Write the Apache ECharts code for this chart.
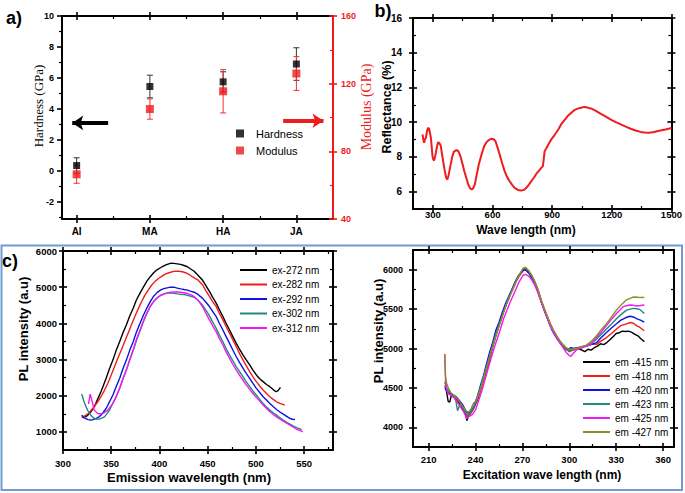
<!DOCTYPE html>
<html><head><meta charset="utf-8">
<script src="https://cdn.jsdelivr.net/npm/echarts@6/dist/echarts.min.js"></script>
<style>html,body{margin:0;padding:0;background:#fff}#c{width:685px;height:493px}</style>
</head><body><div id="c"></div>
<script>
// ---------------- data ----------------
const mechCategories = ['AI', 'MA', 'HA', 'JA'];
const hardness = [0.35, 5.45, 5.75, 6.9];
const hardnessErr = [0.5, 0.73, 0.65, 1.05];
const modulus = [66.4, 105, 115.5, 126];
const modulusErr = [5.3, 6, 12.8, 10];
const hardnessTicks = [-2, 0, 2, 4, 6, 8, 10];
const modulusTicks = [40, 80, 120, 160];

const reflectance = [[248,9.29],[252,9.0],[256,8.81],[260,9.0],[265,9.10],[270,9.45],[275,9.67],[281,9.63],[286,9.35],[290,9.10],[294,8.6],[298,8.04],[302,7.85],[306,7.79],[310,7.95],[315,8.23],[319,8.5],[323,8.71],[327,8.85],[331,8.81],[335,8.75],[340,8.62],[346,8.15],[353,7.66],[359,7.25],[365,6.89],[369,6.75],[373,6.70],[378,6.9],[383,7.18],[390,7.6],[398,8.04],[406,8.3],[415,8.37],[422,8.38],[428,8.33],[435,8.15],[441,7.94],[450,7.55],[458,7.18],[468,6.8],[478,6.41],[487,6.2],[495,6.12],[503,6.2],[511,6.41],[520,6.95],[531,7.56],[545,8.15],[558,8.62],[568,8.82],[578,8.94],[588,9.02],[598,9.04],[607,9.0],[615,8.90],[625,8.55],[636,8.14],[648,7.65],[661,7.18],[673,6.85],[686,6.60],[698,6.4],[711,6.22],[728,6.1],[745,6.06],[758,6.1],[770,6.22],[783,6.4],[795,6.60],[808,6.8],[820,7.02],[833,7.2],[845,7.37],[853,7.46],[858,7.9],[862,8.33],[870,8.48],[881,8.71],[895,9.00],[908,9.2],[920,9.39],[933,9.62],[945,9.87],[962,10.12],[978,10.35],[995,10.53],[1011,10.69],[1028,10.78],[1045,10.83],[1061,10.88],[1078,10.84],[1095,10.79],[1120,10.65],[1145,10.48],[1170,10.32],[1195,10.15],[1220,10.0],[1245,9.87],[1270,9.74],[1295,9.62],[1320,9.52],[1345,9.44],[1365,9.41],[1386,9.39],[1405,9.42],[1428,9.48],[1450,9.53],[1470,9.58],[1490,9.64],[1500,9.67]];
const reflXTicks = [300, 600, 900, 1200, 1500];
const reflYTicks = [6, 8, 10, 12, 14, 16];

const exNames = ['ex-272 nm', 'ex-282 nm', 'ex-292 nm', 'ex-302 nm', 'ex-312 nm'];
const ex272 = [[320,1435],[323.6,1417],[326,1470],[328.9,1556],[331.5,1650],[334,1787],[336.5,1940],[339.4,2111],[342,2290],[344.7,2482],[348,2730],[351.8,2991],[355,3240],[358.8,3500],[362,3730],[365.8,3963],[369,4190],[372.9,4426],[376,4640],[380,4843],[383.5,5010],[387,5167],[390.5,5290],[394,5399],[397.5,5480],[401,5537],[404.5,5590],[408,5630],[411.5,5660],[415,5658],[418.5,5645],[422,5630],[425.5,5600],[429,5565],[432,5510],[436,5440],[440,5330],[444.8,5190],[448,5050],[451.7,4889],[455,4730],[458.7,4565],[462,4390],[465.7,4195],[469,4010],[472.6,3824],[476,3640],[479.6,3454],[483,3290],[486.6,3130],[490,2990],[493.6,2852],[497,2710],[500.5,2574],[504,2470],[507.5,2389],[511,2310],[514.5,2250],[518,2170],[521,2110],[523,2140],[525.5,2230]];
const ex282 = [[319.4,1398],[322,1430],[325.4,1491],[329,1590],[332.4,1695],[336,1830],[339.4,1972],[343,2150],[346.5,2343],[350,2570],[353.5,2806],[357,3040],[360.6,3269],[364,3500],[367.6,3732],[371,3960],[374.6,4195],[378,4400],[381.7,4611],[385,4780],[388.7,4935],[392,5060],[395.8,5167],[399,5240],[402.8,5306],[406,5360],[409.9,5398],[413,5425],[416.9,5445],[420,5440],[423.9,5426],[427,5400],[431,5350],[434,5290],[437.8,5230],[440,5200],[444.8,5060],[448,4910],[451.7,4750],[455,4610],[458.7,4472],[462,4290],[465.7,4102],[469,3920],[472.6,3732],[476,3550],[479.6,3361],[483,3170],[486.6,2991],[490,2830],[493.6,2667],[497,2520],[500.5,2389],[504,2270],[507.5,2157],[511,2060],[514.5,1972],[518,1900],[521.4,1833],[525,1790],[530.1,1741]];
const ex292 = [[319.4,1463],[321,1400],[323.6,1370],[326,1340],[328.9,1324],[331,1340],[334.2,1370],[337,1410],[339.4,1463],[342,1550],[344.7,1648],[348,1820],[351.8,2019],[355,2240],[358.8,2482],[362,2730],[365.8,2991],[369,3240],[372.9,3500],[376,3750],[380,4010],[383.5,4230],[387,4426],[390.5,4600],[394,4750],[397.5,4850],[401,4917],[404.5,4960],[408,4982],[411.5,5000],[415,5000],[418.5,4975],[422,4954],[425.5,4935],[429,4917],[432,4890],[436,4861],[440,4800],[444.8,4690],[448,4590],[451.7,4472],[455,4340],[458.7,4195],[462,4010],[465.7,3824],[469,3640],[472.6,3454],[476,3270],[479.6,3084],[483,2920],[486.6,2760],[490,2620],[493.6,2482],[497,2340],[500.5,2204],[504,2090],[507.5,1972],[511,1880],[514.5,1787],[518,1700],[521.4,1620],[525,1550],[528.4,1491],[532,1430],[535.4,1370],[538,1350],[540.6,1343]];
const ex302 = [[319.4,2046],[321.8,1833],[325.4,1602],[328.9,1463],[332.4,1370],[335,1355],[337.7,1352],[340,1380],[343,1417],[345.5,1500],[348.2,1602],[351.5,1780],[355.3,1972],[359,2230],[362.3,2482],[366,2740],[369.4,2991],[373,3270],[376.4,3547],[380,3800],[383.5,4056],[387,4270],[390.5,4473],[394,4600],[397.5,4704],[401,4770],[404.6,4815],[408,4835],[411.6,4843],[415,4830],[418.7,4815],[422,4805],[425.7,4797],[429,4775],[432.7,4750],[436,4720],[440,4640],[444.8,4500],[448,4370],[451.7,4220],[455,4050],[458.7,3871],[462,3690],[465.7,3500],[469,3310],[472.6,3130],[476,2970],[479.6,2806],[483,2670],[486.6,2528],[490,2390],[493.6,2250],[497,2130],[500.5,2019],[504,1900],[507.5,1787],[511,1690],[514.5,1602],[518,1530],[521.4,1463],[525,1390],[528.4,1324],[532,1265],[535.4,1213],[539,1160],[542.3,1120],[545,1090],[547.6,1065]];
const ex312 = [[326.4,1769],[328.2,2046],[329.9,1880],[332.4,1602],[335.9,1509],[338.5,1500],[341.2,1509],[344,1550],[346.5,1602],[349,1690],[351.8,1787],[355,1980],[358.8,2204],[362,2450],[365.8,2713],[369,2990],[372.9,3269],[376,3540],[380,3824],[383.5,4070],[387,4287],[390.5,4460],[394,4611],[397.5,4700],[401,4769],[404.5,4810],[408,4843],[411.5,4860],[415,4871],[418.5,4868],[422,4861],[425.5,4845],[429,4824],[432.5,4795],[436,4740],[440,4640],[444.8,4460],[448,4290],[451.7,4102],[455,3940],[458.7,3778],[462,3590],[465.7,3408],[469,3220],[472.6,3037],[476,2870],[479.6,2713],[483,2570],[486.6,2435],[490,2300],[493.6,2176],[497,2060],[500.5,1954],[504,1850],[507.5,1741],[511,1650],[514.5,1556],[518,1480],[521.4,1417],[525,1350],[528.4,1296],[532,1240],[535.4,1185],[539,1130],[542.3,1074],[545.5,1040],[548.6,1000]];

const emNames = ['em -415 nm', 'em -418 nm', 'em -420 nm', 'em -423 nm', 'em -425 nm', 'em -427 nm'];
const em415 = [[220.5,4530],[221.5,4450],[222.5,4330],[223.5,4320],[224.5,4400],[226,4390],[228,4350],[230,4290],[232,4230],[233.5,4180],[234.5,4085],[235.5,4150],[237,4180],[239,4250],[241,4340],[243,4460],[245,4590],[247,4730],[249,4870],[251,5020],[253.5,5200],[255.5,5320],[257.5,5450],[260,5580],[262,5680],[264,5770],[266,5860],[268,5930],[270.5,6000],[272,6000],[274,5960],[276,5900],[278,5830],[280,5730],[282,5600],[284,5490],[286,5390],[288,5290],[290,5210],[292,5140],[294,5080],[296,5030],[298,4990],[300,4970],[302,4985],[304,4995],[306,5000],[308,4980],[310,4960],[312,4990],[314,4980],[316,5010],[318,5030],[320,5060],[322,5050],[324,5075],[326,5110],[328,5150],[330,5190],[332,5200],[334,5220],[336,5215],[338,5220],[340,5205],[342,5180],[344,5160],[346,5120],[348,5087]];
const em418 = [[220.5,4570],[221.5,4480],[223,4420],[224.5,4410],[226,4400],[228,4360],[230,4320],[232,4260],[234,4180],[235,4120],[236,4160],[238,4210],[240,4300],[242,4400],[244,4520],[246,4660],[248,4800],[250,4960],[252,5100],[254,5230],[256,5350],[258,5470],[260,5570],[262,5670],[264,5760],[266,5850],[268,5920],[270.5,5990],[272,6000],[274,5965],[276,5910],[278,5840],[280,5740],[282,5610],[284,5500],[286,5400],[288,5300],[290,5220],[292,5150],[294,5085],[296,5035],[298,4995],[300,4960],[302,4975],[304,4990],[306,5005],[308,5010],[311,5040],[314,5060],[317.4,5052],[320,5090],[323.8,5139],[327,5190],[330.2,5248],[333,5290],[336.6,5313],[339,5330],[341,5320],[343,5291],[345,5270],[348,5226]];
const em420 = [[220.5,4500],[221.5,4460],[223,4440],[224.5,4420],[226,4410],[228,4380],[230,4330],[232,4280],[234,4200],[235.5,4180],[237,4200],[239,4270],[241,4380],[243,4520],[245,4650],[247,4800],[249,4950],[251,5080],[253,5230],[255,5330],[257,5450],[259,5560],[261,5650],[263,5740],[265,5830],[267,5910],[269,5960],[271,6000],[273,5985],[275,5940],[277,5880],[279,5790],[281,5660],[283,5540],[285,5430],[287,5330],[289,5230],[291,5160],[293,5100],[295,5050],[297,5010],[299,4985],[301,5010],[303,5000],[305,5010],[308,5020],[311,5030],[314,5050],[317.4,5074],[320,5130],[323.8,5204],[327,5260],[330.2,5313],[333,5360],[336,5390],[338.7,5409],[341,5400],[343,5378],[345.5,5360],[348,5335]];
const em423 = [[220.5,4580],[221.5,4500],[223,4460],[224.5,4430],[226,4400],[227.5,4330],[228.5,4210],[230,4290],[232,4250],[234,4170],[235.5,4160],[237,4190],[238.5,4240],[240,4310],[242,4430],[244,4560],[246,4700],[248,4830],[250,4980],[252,5120],[254,5240],[256,5350],[258,5470],[260,5580],[262,5680],[264,5770],[266,5860],[268,5940],[270.5,6010],[272,6020],[274,5980],[276,5920],[278,5840],[280,5740],[282,5600],[284,5490],[286,5390],[288,5290],[290,5210],[292,5140],[294,5080],[296,5030],[298,4995],[300,4970],[302,4980],[304,4995],[306,5005],[308,5020],[311,5035],[314,5060],[317.4,5117],[320,5170],[323.8,5248],[327,5310],[330.2,5378],[333,5430],[336.6,5487],[339,5500],[341,5509],[343,5505],[345.1,5496],[348,5444]];
const em425 = [[220.3,4930],[220.8,4600],[221.5,4470],[223,4420],[224.5,4400],[226,4380],[228,4330],[230,4270],[232,4210],[233.5,4150],[234.5,4110],[236,4140],[238,4160],[240,4220],[242,4340],[244,4460],[246,4600],[248,4740],[250,4880],[252,5010],[254,5130],[256,5250],[258,5380],[260,5480],[262,5580],[264,5670],[266,5760],[268,5850],[270.5,5930],[272,5940],[274,5920],[276,5870],[278,5800],[280,5700],[282,5590],[284,5480],[286,5380],[288,5280],[290,5200],[292,5130],[294,5070],[296,5010],[298,4950],[300,4910],[301,4900],[303,4950],[305,4990],[308,5010],[311,5030],[314,5060],[317.4,5139],[320,5200],[323.8,5291],[327,5370],[330.2,5444],[334.5,5531],[338.7,5552],[341,5548],[343,5539],[345.5,5545],[348,5552]];
const em427 = [[220.3,4930],[220.8,4650],[221.5,4560],[223,4480],[224.5,4430],[226,4410],[228,4370],[230,4320],[232,4260],[234,4210],[235.5,4190],[237,4230],[238.5,4300],[240,4330],[242,4420],[244,4540],[246,4680],[248,4820],[250,4960],[252,5090],[254,5220],[256,5340],[258,5460],[260,5570],[262,5670],[264,5760],[266,5850],[268,5930],[270.5,6020],[272,6030],[274,5990],[276,5930],[278,5850],[280,5750],[282,5620],[284,5510],[286,5410],[288,5310],[290,5230],[292,5160],[294,5100],[296,5050],[298,5010],[300,4990],[302,4990],[304,5000],[306,5010],[308,5025],[311,5043],[314,5090],[317.4,5161],[320,5230],[323.8,5313],[327,5400],[330.2,5487],[333,5550],[336.6,5618],[340.9,5653],[344,5650],[348,5648]];

// ---------------- chart ----------------
const FONT = 'Liberation Sans';
const SERIF = 'Liberation Serif';
const RED = '#ee1c1c';
const xAxes = [], yAxes = [];

function addAxes(list, grid, pos, min, max, major, minor, o) {
  o = o || {};
  const color = o.color || '#000';
  const base = () => ({gridIndex: grid, type: 'value', position: pos, min: min, max: max,
    splitLine: {show: false}, axisLine: {show: false, onZero: false}, axisTick: {show: false},
    axisLabel: {show: false}});
  const idx = list.length;
  const main = base();
  main.axisLine = {show: true, onZero: false, lineStyle: {color: color, width: o.lw || 2}};
  main.axisTick = {show: true, length: o.outLen != null ? o.outLen : 4, customValues: major, lineStyle: {color: color, width: 1.6}};
  if (o.labels) {
    main.axisLabel = {show: true, customValues: major, margin: o.margin, color: color, fontFamily: FONT,
      fontWeight: 'bold', fontSize: o.fs || 10, formatter: o.fmt || (v => String(v))};
  }
  list.push(main);
  if (o.inLen !== 0) {
    const inner = base();
    inner.axisTick = {show: true, inside: true, length: o.inLen || 4, customValues: major, lineStyle: {color: color, width: 1.6}};
    list.push(inner);
  }
  if (minor) {
    const mn = base();
    mn.axisTick = {show: true, inside: !o.minorOut, length: 3, customValues: minor, lineStyle: {color: color, width: 1.2}};
    list.push(mn);
  }
  return idx;
}

// panel a
const aX = addAxes(xAxes, 0, 'bottom', -0.2, 3.5, [0, 1, 2, 3], [0.5, 1.5, 2.5],
  {labels: true, margin: 7, fs: 10, fmt: v => mechCategories[Math.round(v)]});
addAxes(xAxes, 0, 'top', -0.2, 3.5, [0, 1, 2, 3], [0.5, 1.5, 2.5], {});
const aYL = addAxes(yAxes, 0, 'left', -3.1, 10, hardnessTicks, [-3, -1, 1, 3, 5, 7, 9],
  {labels: true, margin: 8, fs: 9, inLen: 0, minorOut: true, outLen: 5});
const aYR = addAxes(yAxes, 0, 'right', 40, 160, modulusTicks, [60, 100, 140],
  {labels: true, margin: 8, fs: 9, color: RED});
// panel b
const bX = addAxes(xAxes, 1, 'bottom', 200, 1500, reflXTicks, [450, 750, 1050, 1350],
  {labels: true, margin: 0, fs: 9.5});
addAxes(xAxes, 1, 'top', 200, 1500, reflXTicks, [450, 750, 1050, 1350], {});
const bY = addAxes(yAxes, 1, 'left', 5, 16, reflYTicks, [7, 9, 11, 13, 15], {labels: true, margin: 11, fs: 10});
addAxes(yAxes, 1, 'right', 5, 16, reflYTicks, [7, 9, 11, 13, 15], {});
// panel c left
const cLX = addAxes(xAxes, 2, 'bottom', 300, 580, [300, 350, 400, 450, 500, 550], [325, 375, 425, 475, 525, 575],
  {labels: true, margin: 8, fs: 9.5});
addAxes(xAxes, 2, 'top', 300, 580, [300, 350, 400, 450, 500, 550], [325, 375, 425, 475, 525, 575], {});
const cLY = addAxes(yAxes, 2, 'left', 500, 6000, [1000, 2000, 3000, 4000, 5000, 6000], [1500, 2500, 3500, 4500, 5500],
  {labels: true, margin: 6, fs: 9.5});
addAxes(yAxes, 2, 'right', 500, 6000, [1000, 2000, 3000, 4000, 5000, 6000], [1500, 2500, 3500, 4500, 5500], {});
// panel c right
const cRX = addAxes(xAxes, 3, 'bottom', 200, 367, [210, 240, 270, 300, 330, 360], [225, 255, 285, 315, 345],
  {labels: true, margin: 7, fs: 9.5});
addAxes(xAxes, 3, 'top', 200, 367, [210, 240, 270, 300, 330, 360], [225, 255, 285, 315, 345], {});
const cRY = addAxes(yAxes, 3, 'left', 3750, 6250, [4000, 4500, 5000, 5500, 6000], [4250, 4750, 5250, 5750],
  {labels: true, margin: 10, fs: 9});
addAxes(yAxes, 3, 'right', 3750, 6250, [4000, 4500, 5000, 5500, 6000], [4250, 4750, 5250, 5750], {});

function errSeries(yi, vals, errs, color) {
  return {type: 'custom', xAxisIndex: aX, yAxisIndex: yi, silent: true,
    data: vals.map((v, i) => [i, v - errs[i], v + errs[i]]),
    encode: {x: 0, y: [1, 2]},
    renderItem: function (params, api) {
      const lo = api.coord([api.value(0), api.value(1)]);
      const hi = api.coord([api.value(0), api.value(2)]);
      const s = {stroke: color, lineWidth: 1};
      return {type: 'group', children: [
        {type: 'line', shape: {x1: lo[0], y1: lo[1], x2: hi[0], y2: hi[1]}, style: s},
        {type: 'line', shape: {x1: lo[0] - 3, y1: lo[1], x2: lo[0] + 3, y2: lo[1]}, style: s},
        {type: 'line', shape: {x1: hi[0] - 3, y1: hi[1], x2: hi[0] + 3, y2: hi[1]}, style: s}
      ]};
    }};
}

function lineS(name, data, xi, yi, color) {
  return {name: name, type: 'line', xAxisIndex: xi, yAxisIndex: yi, data: data, symbol: 'none',
    lineStyle: {color: color, width: 1.4}, itemStyle: {color: color}, silent: true};
}

const exColors = ['#000000', '#ee1c1c', '#1010e0', '#1f8a80', '#f01af0'];
const emColors = ['#000000', '#ee1c1c', '#1010e0', '#1f8a80', '#f01af0', '#8c8c28'];
const exData = [ex272, ex282, ex292, ex302, ex312];
const emData = [em415, em418, em420, em423, em425, em427];

const series = [
  errSeries(aYL, hardness, hardnessErr, '#333'),
  {name: 'Hardness', type: 'scatter', xAxisIndex: aX, yAxisIndex: aYL, symbol: 'rect', symbolSize: 7,
    itemStyle: {color: '#000'}, data: hardness.map((v, i) => [i, v]),
    markLine: {silent: true, symbol: ['none', 'arrow'], symbolSize: [11, 11], label: {show: false},
      lineStyle: {color: '#000', width: 4, type: 'solid'},
      data: [[{coord: [0.43, 3.1]}, {coord: [-0.06, 3.1]}]]}},
  errSeries(aYR, modulus, modulusErr, '#e33'),
  {name: 'Modulus', type: 'scatter', xAxisIndex: aX, yAxisIndex: aYR, symbol: 'rect', symbolSize: 8,
    itemStyle: {color: RED}, data: modulus.map((v, i) => [i, v]),
    markLine: {silent: true, symbol: ['none', 'arrow'], symbolSize: [11, 11], label: {show: false},
      lineStyle: {color: RED, width: 4, type: 'solid'},
      data: [[{coord: [2.82, 98.1]}, {coord: [3.37, 98.1]}]]}},
  {name: 'refl', type: 'line', xAxisIndex: bX, yAxisIndex: bY, data: reflectance, symbol: 'none',
    lineStyle: {color: RED, width: 2}, silent: true}
];
exData.forEach((d, i) => series.push(lineS(exNames[i], d, cLX, cLY, exColors[i])));
emData.forEach((d, i) => series.push(lineS(emNames[i], d, cRX, cRY, emColors[i])));

function txt(x, y, text, font, fill, rot) {
  return {type: 'text', x: x, y: y, rotation: rot || 0, silent: true,
    style: {text: text, font: font, fill: fill || '#000', textAlign: 'center', textVerticalAlign: 'middle'}};
}

const option = {
  animation: false,
  backgroundColor: '#fff',
  grid: [
    {left: 62, top: 16, width: 271, height: 203},
    {left: 413, top: 18, width: 259, height: 191},
    {left: 63, top: 251, width: 270, height: 199},
    {left: 413, top: 250, width: 261, height: 197}
  ],
  xAxis: xAxes,
  yAxis: yAxes,
  legend: [
    {data: [{name: 'Hardness', icon: 'rect'}, {name: 'Modulus', icon: 'rect'}], orient: 'vertical',
      left: 236, top: 128, padding: 0, itemWidth: 8, itemHeight: 8, itemGap: 6,
      textStyle: {fontFamily: FONT, fontSize: 11, color: '#000', padding: [0, 0, 0, 7]}},
    {data: exNames.map(n => ({name: n, icon: 'rect'})), orient: 'vertical', left: 240, top: 265, padding: 0,
      itemWidth: 27, itemHeight: 2, itemGap: 4.5, textStyle: {fontFamily: FONT, fontSize: 10, color: '#000'}},
    {data: emNames.map(n => ({name: n, icon: 'rect'})), orient: 'vertical', left: 583, top: 357, padding: 0,
      itemWidth: 27, itemHeight: 2, itemGap: 4, textStyle: {fontFamily: FONT, fontSize: 10, color: '#000'}}
  ],
  graphic: [
    {type: 'rect', silent: true, shape: {x: 1.5, y: 245.5, width: 680.5, height: 244.5},
      style: {fill: 'none', stroke: '#6f9bd6', lineWidth: 2}},
    txt(14, 18, 'a)', 'bold 18px ' + FONT),
    txt(383, 11, 'b)', 'bold 18px ' + FONT),
    txt(10, 261, 'c)', 'bold 18px ' + FONT),
    txt(38, 106, 'Hardness (GPa)', '13px ' + SERIF, '#000', Math.PI / 2),
    txt(366, 107, 'Modulus (GPa)', '14px ' + SERIF, RED, Math.PI / 2),
    txt(387, 107, 'Reflectance (%)', 'bold 12.5px ' + FONT, '#000', Math.PI / 2),
    txt(526, 230, 'Wave length (nm)', 'bold 12px ' + FONT),
    txt(23, 329, 'PL intensity (a.u)', 'bold 13px ' + FONT, '#000', Math.PI / 2),
    txt(189, 477, 'Emission wavelength (nm)', 'bold 13px ' + FONT),
    txt(378, 331, 'PL intensity (a.u)', 'bold 13px ' + FONT, '#000', Math.PI / 2),
    txt(542, 475, 'Excitation wave length (nm)', 'bold 12px ' + FONT)
  ],
  series: series
};

const chart = echarts.init(document.getElementById('c'), null, {renderer: 'svg'});
chart.setOption(option);
</script>
</body></html>
